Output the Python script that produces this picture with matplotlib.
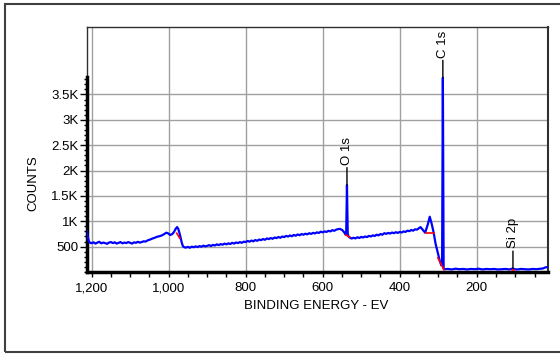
import numpy as np
import matplotlib
matplotlib.use('Agg')
import matplotlib.pyplot as plt
from matplotlib.patches import Rectangle

plt.rcParams['font.family'] = ['Liberation Sans', 'DejaVu Sans']
plt.rcParams['font.size'] = 9.5

# survey spectrum: binding energy (eV) and counts
energy = [1212, 1210, 1207, 1203,
          1200, 1195, 1190, 1185, 1180, 1175, 1170, 1165, 1160, 1155, 1150, 1145, 1140,
          1135, 1130, 1125, 1120, 1115, 1110, 1105, 1100, 1095, 1090, 1085, 1080, 1075,
          1070, 1065, 1060, 1054, 1048, 1042, 1036, 1030, 1024, 1018, 1012, 1006, 1001,
          996, 991, 986, 982, 978, 975, 972, 969, 966, 963, 960, 956,
          950, 945, 940, 935, 930, 925, 920, 915, 910, 905, 900, 895, 890, 885, 880, 875,
          870, 865, 860, 855, 850, 845, 840, 835, 830, 825, 820, 815, 810, 805, 800, 795,
          790, 785, 780, 775, 770, 765, 760, 755, 750, 745, 740, 735, 730, 725, 720, 715,
          710, 705, 700, 695, 690, 685, 680, 675, 670, 665, 660, 655, 650, 645, 640, 635,
          630, 625, 620, 615, 610, 605, 600, 595, 590, 585, 580, 575, 570, 565, 560, 555,
          549, 544, 541,
          539, 537, 535, 533,
          530, 525, 520, 515, 510, 505, 500, 495, 490, 485, 480, 475, 470, 465, 460, 455,
          450, 445, 440, 435, 430, 425, 420, 415, 410, 405, 400, 395, 390, 385, 380, 375,
          370, 365, 360, 355, 350, 346, 340, 334,
          327, 322, 317, 312, 307, 301, 296, 292, 290, 288, 286,
          284, 275, 265, 255, 245, 235, 225, 215, 205, 195, 185, 175, 165, 155, 145, 135,
          125, 115, 110, 106, 102, 95, 85, 75, 65, 55, 45, 35, 28, 22, 18, 15]
counts = [800, 690, 600, 570,
          570, 585, 560, 580, 595, 565, 580, 570, 555, 580, 590, 570, 585,
          560, 575, 590, 565, 580, 570, 590, 575, 560, 585, 575, 595, 580,
          590, 605, 600, 625, 640, 660, 675, 695, 705, 720, 745, 775, 760,
          730, 745, 790, 850, 885, 850, 770, 680, 580, 510, 490, 480,
          495, 478, 500, 488, 505, 492, 510, 498, 520, 505, 515, 530, 512, 535, 522, 545,
          530, 550, 538, 560, 545, 565, 552, 575, 560, 582, 570, 590, 575, 598, 590, 612,
          598, 620, 605, 630, 615, 640, 628, 650, 635, 662, 648, 670, 655, 680, 668, 690,
          675, 700, 688, 712, 698, 720, 705, 730, 715, 740, 725, 748, 735, 755, 742, 765,
          750, 772, 760, 782, 770, 795, 782, 800, 790, 812, 800, 825, 812, 835, 845, 850,
          825, 780, 740,
          760, 1715, 760, 700,
          680, 660, 675, 662, 685, 670, 692, 680, 700, 688, 712, 700, 722, 710, 735, 722,
          748, 735, 765, 752, 770, 758, 778, 765, 785, 770, 790, 778, 800, 790, 815, 805,
          828, 815, 842, 835, 865, 885, 830, 775,
          940, 1090, 950, 780, 560, 370, 220, 130, 150, 3830, 60,
          55, 60, 50, 65, 55, 60, 50, 60, 55, 65, 50, 60, 55, 60, 50, 55,
          60, 50, 60, 70, 55, 50, 60, 55, 50, 60, 55, 65, 70, 90, 95, 100]

# background segments under the fitted regions
bg_segments = [([979, 971], [765, 665]),
               ([540, 530], [730, 685]),
               ([332, 312], [770, 770]),
               ([301, 285], [280, 45]),
               ([108, 104], [45, 45])]

peak_names = ['O 1s', 'C 1s', 'Si 2p']
peak_energies = [537, 288, 106]

x_major = [1200, 1000, 800, 600, 400, 200]
x_labels = ['1,200', '1,000', '800', '600', '400', '200']
y_major = [500, 1000, 1500, 2000, 2500, 3000, 3500]
y_labels = ['500', '1K', '1.5K', '2K', '2.5K', '3K', '3.5K']

fig = plt.figure(figsize=(5.6, 3.54), dpi=100)
ax = fig.add_axes([87 / 560, 1 - 272 / 354, (548 - 87) / 560, (272 - 27) / 354])

ax.plot(energy, counts, color='#0000ff', lw=1.6, zorder=3)
for xs, ys in bg_segments:
    ax.plot(xs, ys, color='#ff0000', lw=1.2, zorder=4)

e_arr = np.array(energy)
c_arr = np.array(counts)
for name, e in zip(peak_names, peak_energies):
    top = c_arr[np.abs(e_arr - e) <= 2].max()
    ax.annotate(name, xy=(e, top), xytext=(0, 14.5), textcoords='offset points',
                rotation=90, ha='center', va='bottom',
                arrowprops=dict(arrowstyle='-', color='black', lw=1,
                                shrinkA=0, shrinkB=0, relpos=(0.5, 0)))

ax.set_xlim(1212, 15)
ax.set_ylim(0, 4830)
ax.set_xticks(x_major)
ax.set_xticklabels(x_labels)
ax.set_xticks(np.arange(50, 1201, 50), minor=True)
ax.set_yticks(y_major)
ax.set_yticklabels(y_labels)
ax.set_yticks(np.arange(0, 3900, 100), minor=True)
ax.grid(which='major', color='#a0a0a0', lw=1)
ax.set_axisbelow(True)

ax.tick_params(axis='x', which='both', direction='out', length=3.5, width=1, pad=4)
ax.tick_params(axis='y', which='major', direction='out', length=5, width=1, pad=1)
ax.tick_params(axis='y', which='minor', direction='out', length=2, width=1)

ax.spines['left'].set_bounds(0, 3840)
ax.spines['left'].set_linewidth(2.5)
ax.spines['bottom'].set_linewidth(2.5)
ax.spines['top'].set_linewidth(1)
ax.spines['top'].set_color('#303030')
ax.spines['right'].set_linewidth(1.5)
ax.spines['right'].set_color('#303030')
ax.plot([0, 0], [0, 1], transform=ax.transAxes, color='#303030', lw=1, clip_on=False)

fig.text(33 / 560, 1 - 183 / 354, 'COUNTS', rotation=90, ha='center', va='center')
fig.text(316 / 560, 1 - 306 / 354, 'BINDING ENERGY - EV', ha='center', va='center')

fig.add_artist(Rectangle((5 / 560, 1 - 352 / 354), 600 / 560, 348 / 354,
                         transform=fig.transFigure, fill=False, ec='#404040', lw=1.5))

fig.savefig('out.png', dpi=100)
